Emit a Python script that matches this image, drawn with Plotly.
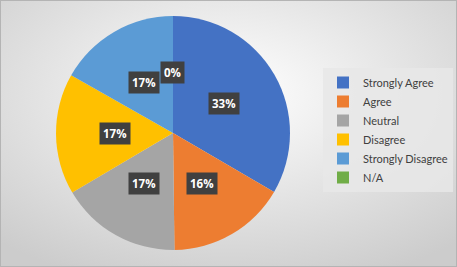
import math
import plotly.graph_objects as go

categories = ["Strongly Agree", "Agree", "Neutral", "Disagree", "Strongly Disagree", "N/A"]
values = [33.4, 16.4, 16.7, 16.7, 16.8, 0]
colors = ["#4472C4", "#ED7D31", "#A5A5A5", "#FFC000", "#5B9BD5", "#70AD47"]

W, H = 457, 267
dom_x = [56 / W, 290 / W]
dom_y = [(H - 250) / H, (H - 16) / H]

fig = go.Figure()
fig.add_trace(go.Pie(
    labels=categories, values=values, sort=False, direction="clockwise",
    rotation=0, marker=dict(colors=colors, line=dict(width=0)),
    textinfo="none", hoverinfo="label+percent",
    domain=dict(x=dom_x, y=dom_y), showlegend=True,
))

# data labels (dark boxes) placed at slice mid-angles, half radius
cx = (dom_x[0] + dom_x[1]) / 2 * W
cy = (dom_y[0] + dom_y[1]) / 2 * H
R = (dom_y[1] - dom_y[0]) * H / 2
total = sum(values)
cum = 0
annotations = []
for c, v in zip(categories, values):
    frac = v / total
    mid = (cum + frac / 2) * 2 * math.pi
    cum += frac
    r = 0.52 * R if v == 0 else 0.5 * R
    px = cx + r * math.sin(mid)
    py = cy + r * math.cos(mid)
    annotations.append(dict(
        x=px / W, y=py / H, xref="paper", yref="paper",
        text="<b>%d%%</b>" % round(frac * 100), showarrow=False,
        font=dict(family="Open Sans, sans-serif", size=11.5, color="white"),
        bgcolor="#404040", borderpad=3, xanchor="center", yanchor="middle",
    ))

svg = (
    "data:image/svg+xml;utf8,"
    "<svg xmlns='http://www.w3.org/2000/svg' width='457' height='267' viewBox='0 0 457 267' preserveAspectRatio='none'>"
    "<defs><radialGradient id='g' cx='0.5' cy='0.35' r='0.75'>"
    "<stop offset='0' stop-color='%23ffffff'/><stop offset='1' stop-color='%23cccccc'/>"
    "</radialGradient></defs>"
    "<rect x='0' y='0' width='457' height='267' fill='url(%23g)'/>"
    "<rect x='0.5' y='0.5' width='456' height='266' fill='none' stroke='%23b4b4b4' stroke-width='1'/>"
    "</svg>"
)

fig.update_layout(
    width=W, height=H, margin=dict(l=0, r=0, t=0, b=0, autoexpand=False),
    paper_bgcolor="#e6e6e6",
    images=[dict(source=svg, xref="paper", yref="paper", x=0, y=1, sizex=1, sizey=1,
                 sizing="stretch", layer="below", xanchor="left", yanchor="top")],
    annotations=annotations,
    legend=dict(x=323 / W, y=(H - 68) / H, xanchor="left", yanchor="top",
                bgcolor="rgba(232,232,232,0.85)",
                font=dict(family="Lato, sans-serif", size=11, color="#404040"),
                itemwidth=30),
)

fig.write_html("out.html", config={"displayModeBar": False},
               post_script=["document.body.style.margin='0';"])
